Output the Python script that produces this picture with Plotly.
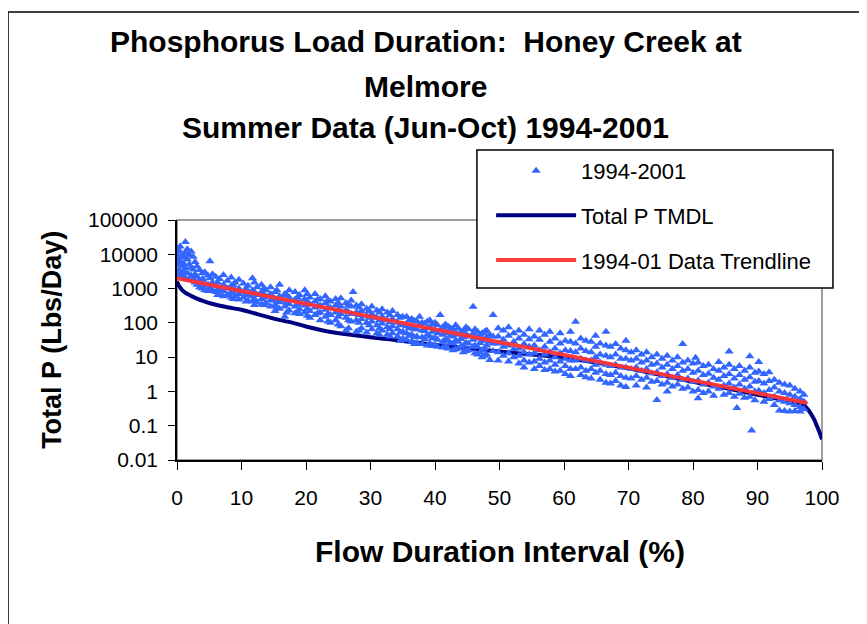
import plotly.graph_objects as go

# Phosphorus load duration, Honey Creek at Melmore (summer 1994-2001)

# observed loads, grouped by flow duration interval (%)
obs_pct = [0.1, 0.3, 0.5, 0.8, 1.0, 1.3, 1.6, 1.9, 2.2, 2.5, 2.8, 3.1, 3.5, 3.9, 4.3, 4.8,
           5.1, 5.5, 6.0, 6.6, 7.2, 7.8, 8.4, 9.0, 9.6, 10.3, 11.0, 11.7, 12.4, 13.1, 13.8,
           14.5, 15.2, 15.9, 16.7, 17.4, 18.3, 19.0, 19.8, 20.6, 21.4, 22.2, 23.0, 23.8,
           24.6, 25.4, 26.2, 27.0, 27.3, 27.8, 28.6, 29.4, 30.2, 31.0, 31.8, 32.6, 33.4,
           34.2, 35.0, 35.6, 36.4, 37.2, 37.6, 38.0, 38.8, 39.6, 40.4, 40.8, 41.2, 42.0,
           42.8, 43.6, 44.4, 45.2, 45.9, 46.6, 47.3, 48.0, 48.5, 49.0, 49.8, 50.6, 51.4,
           52.2, 53.0, 53.8, 54.6, 55.4, 56.2, 57.0, 57.8, 58.6, 59.4, 60.2, 61.0, 61.8,
           62.6, 63.4, 64.2, 64.9, 65.6, 66.5, 67.2, 68.0, 68.8, 69.6, 70.4, 71.2, 72.0,
           72.8, 73.6, 74.4, 75.2, 76.0, 76.8, 77.6, 78.4, 79.2, 80.0, 80.4, 80.8, 81.6,
           82.4, 83.2, 84.0, 84.8, 85.6, 86.4, 86.8, 87.2, 88.0, 88.8, 89.1, 89.6, 90.2,
           91.0, 91.8, 92.6, 93.4, 94.2, 95.0, 95.8, 96.6, 97.2]
obs_load = [
    [15000, 9000, 5000, 2600], [12000, 7000, 3500], [17000, 6000, 3000, 2200],
    [10000, 4500, 2500], [8000, 5500, 3200], [23000, 11000, 4000, 2000],
    [14000, 7000, 2800], [9500, 5000, 1800], [12000, 4200, 2400], [8500, 3600, 1900],
    [6000, 2600, 1500], [4500, 2200, 1300], [3500, 1800, 1100], [2800, 1600, 1000],
    [3000, 1400, 900], [2400, 1300, 850], [6300, 2000, 1100], [2600, 1500, 900],
    [2200, 1200, 800], [1900, 1000, 700], [2500, 1300, 850, 600], [1700, 1000, 650],
    [2100, 1200, 800, 550], [1500, 900, 600], [1800, 1000, 700, 480], [1400, 800, 550],
    [1200, 700, 450], [2000, 900, 600, 420], [1100, 650, 400], [1300, 800, 500, 350],
    [900, 600, 380], [1100, 700, 450, 300], [800, 500, 330, 220], [1300, 600, 400, 260],
    [700, 450, 300, 150], [900, 550, 350, 230], [800, 480, 300, 190], [650, 400, 250, 180],
    [900, 500, 320, 200], [550, 350, 220, 140], [700, 420, 280, 170], [500, 320, 200, 120],
    [600, 380, 240, 150], [420, 270, 170, 100], [500, 320, 200, 120], [520, 300, 180, 80],
    [380, 230, 140, 60], [450, 300, 180, 110], [800], [320, 200, 120, 55],
    [350, 220, 130, 70], [260, 160, 100, 52], [300, 180, 110, 65], [230, 140, 85, 50],
    [250, 150, 95, 60], [200, 120, 75, 45], [220, 130, 80, 50], [170, 100, 65, 40],
    [150, 90, 55, 35], [150, 80, 50, 32], [130, 75, 45, 28], [110, 65, 40, 26], [150, 90],
    [100, 60, 38, 24], [110, 70, 45, 22], [90, 55, 35, 21], [85, 50, 32, 20], [170, 60],
    [75, 45, 28, 19], [80, 50, 30, 18], [65, 40, 25, 16], [70, 45, 28, 18], [60, 38, 22, 14],
    [65, 40, 25, 16], [295, 50, 32, 20], [55, 35, 20, 12], [50, 30, 16, 10], [60, 38, 22, 12],
    [45, 28, 8.3], [170, 40, 25, 15], [70, 40, 25, 14, 8], [60, 32, 20, 11],
    [75, 42, 22, 13, 7.5], [50, 28, 17, 10], [60, 35, 18, 11, 6.5], [45, 24, 14, 8, 5],
    [65, 33, 20, 12, 7], [40, 22, 13, 7.5, 4.5], [60, 32, 16, 9, 5.5], [45, 20, 12, 7, 4.2],
    [55, 28, 14, 8, 4.5], [35, 18, 10, 6, 3.8], [50, 25, 13, 7.5, 4], [30, 16, 9, 5.5, 3.2],
    [55, 28, 15, 8, 4.5, 2.8], [107, 25, 14, 8, 4.5], [35, 18, 9, 5, 3], [30, 15, 8, 4, 2.6],
    [28, 14, 8, 4.5, 2.4], [42, 20, 10, 6, 3.5], [25, 12, 7, 4, 2.2],
    [55, 22, 11, 6, 3.2, 1.8], [20, 10, 5.5, 3, 1.7], [24, 12, 6, 3.5, 2],
    [18, 9, 5, 2.8, 1.5], [30, 16, 9, 5, 2.5, 1.35], [14, 8, 4.5, 2.4],
    [16, 9, 5, 2.8, 1.5], [12, 7, 4, 2.2], [14, 8, 4.5, 2.5, 1.3], [10, 6, 3.4, 1.9],
    [12, 6.5, 3.6, 2, 0.56], [9, 5, 2.8, 1.6], [11, 6, 3.2, 1.8, 1.0], [8, 4.5, 2.5, 1.4],
    [10, 5.5, 3, 1.6], [24, 7, 4, 2.2, 1.2], [8, 4.5, 2.4, 1.3], [6.5, 3.5, 1.9, 1.0],
    [9.6], [7, 4, 2.1, 1.1, 0.63], [5.5, 3, 1.6, 0.9], [6, 3.3, 1.8, 1.0],
    [4.5, 2.5, 1.4, 0.75], [7.2, 4, 2.2, 1.2], [5, 2.8, 1.5, 0.8],
    [14.5, 6, 3.2, 1.7, 0.9], [4.5, 2.4, 1.3, 0.7], [0.33], [5.5, 3, 1.6, 0.85],
    [4, 2.2, 1.2, 0.65], [10.7, 5, 2.6, 1.4, 0.7], [0.072], [3.5, 1.9, 1.0, 0.55],
    [7.2, 3.8, 2, 1.05], [3.2, 1.7, 0.9, 0.5], [3.6, 2, 1.1, 0.6], [2.2, 1.3, 0.7, 0.4],
    [1.8, 1.0, 0.55, 0.28], [1.6, 0.9, 0.5, 0.27], [1.5, 0.8, 0.45, 0.26],
    [1.2, 0.7, 0.4, 0.27], [1.0, 0.6, 0.35, 0.26], [0.8, 0.5, 0.3]]

# second pass over the dense part of the band
obs_pct2 = [4.0, 6.3, 8.7, 10.7, 12.0, 13.5, 15.5, 17.0, 18.7, 20.2, 21.8, 23.4, 25.0, 26.6,
            28.2, 29.8, 31.4, 33.0, 34.6, 36.0, 36.8, 38.4, 39.2, 40.0, 41.6, 42.4, 43.2,
            44.0, 44.8, 46.2, 47.0, 47.7]
obs_load2 = [
    [1900, 1200], [1500, 950, 650], [1300, 750, 500], [1000, 650, 420],
    [1500, 800, 500, 330], [1000, 550, 330], [900, 420, 280], [650, 400, 200],
    [560, 350, 210], [700, 420, 260, 160], [480, 300, 190], [450, 280, 180, 110],
    [380, 240, 150, 90], [330, 200, 120, 70], [280, 170, 100, 60], [220, 140, 85],
    [200, 120, 70, 45], [170, 105, 65, 40], [140, 85, 52, 30], [120, 70, 42],
    [115, 65, 38, 24], [95, 58, 34], [120, 75, 40, 25], [100, 60, 36, 22],
    [90, 55, 33, 20], [70, 42, 26], [85, 50, 30, 17], [55, 34, 20],
    [75, 45, 26, 15], [65, 38, 22, 13], [45, 26, 14], [55, 32, 18, 11]]

# TMDL curve
tmdl_pct = [0, 0.3, 0.7, 1.2, 2, 3, 4, 5, 6.5, 8, 10, 12, 14, 16, 18, 20, 23, 26, 30, 33,
            36, 40, 44, 48, 52, 56, 60, 65, 70, 75, 80, 85, 90, 93, 95, 97, 97.8, 98.3,
            98.8, 99.2, 99.6, 100]
tmdl_load = [1600, 1200, 950, 780, 640, 520, 440, 380, 320, 280, 240, 190, 150, 120, 100,
             78, 58, 47, 38, 33, 28, 23, 19, 16, 13.5, 11.5, 9.5, 7, 4.7, 3.0, 1.9, 1.25,
             0.8, 0.62, 0.52, 0.42, 0.3, 0.22, 0.15, 0.1, 0.065, 0.04]

# exponential trendline end points
trend_pct = [0, 97.7]
trend_load = [2000, 0.46]

ytick_vals = [0.01, 0.1, 1, 10, 100, 1000, 10000, 100000]
ytick_text = ["0.01", "0.1", "1", "10", "100", "1000", "10000", "100000"]

scatter_x, scatter_y = [], []
for pcts, loads in [(obs_pct, obs_load), (obs_pct2, obs_load2)]:
    for p, col in zip(pcts, loads):
        scatter_x += [p] * len(col)
        scatter_y += col

FONT = "Liberation Sans, Arial, sans-serif"

fig = go.Figure()
fig.add_trace(go.Scatter(x=tmdl_pct, y=tmdl_load, mode="lines", name="Total P TMDL",
                         line=dict(color="#000080", width=4, shape="spline"),
                         legendrank=2, legendgroup="b"))
fig.add_trace(go.Scatter(x=scatter_x, y=scatter_y, mode="markers", name="1994-2001",
                         marker=dict(symbol="triangle-up", size=8, color="#3366FF"),
                         legendrank=1, legendgroup="a"))
fig.add_trace(go.Scatter(x=trend_pct, y=trend_load, mode="lines", name="1994-01 Data Trendline",
                         line=dict(color="rgba(255,51,51,0.95)", width=4), legendrank=3,
                         legendgroup="c"))

title_lines = ["Phosphorus Load Duration:  Honey Creek at", "Melmore",
               "Summer Data (Jun-Oct) 1994-2001"]
title_y = [1.742, 1.558, 1.3875]
annots = [dict(text="<b>%s</b>" % t, x=0.386, y=y, xref="paper", yref="paper",
               xanchor="center", yanchor="middle", showarrow=False,
               font=dict(family=FONT, size=30, color="black"))
          for t, y in zip(title_lines, title_y)]
annots.append(dict(text="<b>Total P (Lbs/Day)</b>", x=-0.194, y=0.5, xref="paper", yref="paper",
                   xanchor="center", yanchor="middle", textangle=-90, showarrow=False,
                   font=dict(family=FONT, size=27, color="black")))
annots.append(dict(text="<b>Flow Duration Interval (%)</b>", x=0.5, y=-0.383, xref="paper",
                   yref="paper", xanchor="center", yanchor="middle", showarrow=False,
                   font=dict(family=FONT, size=30, color="black")))

fig.update_layout(
    width=859, height=616,
    margin=dict(l=169, r=45, t=212, b=164, autoexpand=False),
    paper_bgcolor="white", plot_bgcolor="white",
    font=dict(family=FONT, size=21, color="black"),
    annotations=annots,
    showlegend=True,
    legend=dict(x=0.487, y=1.292, xanchor="left", yanchor="top",
                borderwidth=0, bgcolor="rgba(0,0,0,0)",
                font=dict(family=FONT, size=22), itemwidth=80, tracegroupgap=13),
    shapes=[
        dict(type="rect", xref="paper", yref="paper", x0=0, x1=1, y0=0, y1=1,
             line=dict(color="#808080", width=1.5), layer="below"),
        dict(type="rect", xref="paper", yref="paper", x0=-0.262, x1=1.067, y0=-0.75, y1=1.867,
             line=dict(color="black", width=1.5), layer="below"),
        # legend frame
        dict(type="rect", xref="paper", yref="paper", x0=0.465, x1=1.017, y0=0.717, y1=1.292,
             line=dict(color="black", width=1.5), fillcolor="white", layer="above"),
    ],
)
fig.update_xaxes(range=[0, 100], dtick=10, showgrid=False, zeroline=False, showline=True,
                 linecolor="black", linewidth=1.5, ticks="outside", ticklen=8,
                 tickcolor="black", ticklabelstandoff=10)
fig.update_yaxes(type="log", range=[-2, 5], tickvals=ytick_vals, ticktext=ytick_text,
                 showgrid=False, zeroline=False, showline=True, linecolor="black",
                 linewidth=1.5, ticks="outside", ticklen=7, tickcolor="black",
                 ticklabelstandoff=6)

fig.write_html("out.html")
